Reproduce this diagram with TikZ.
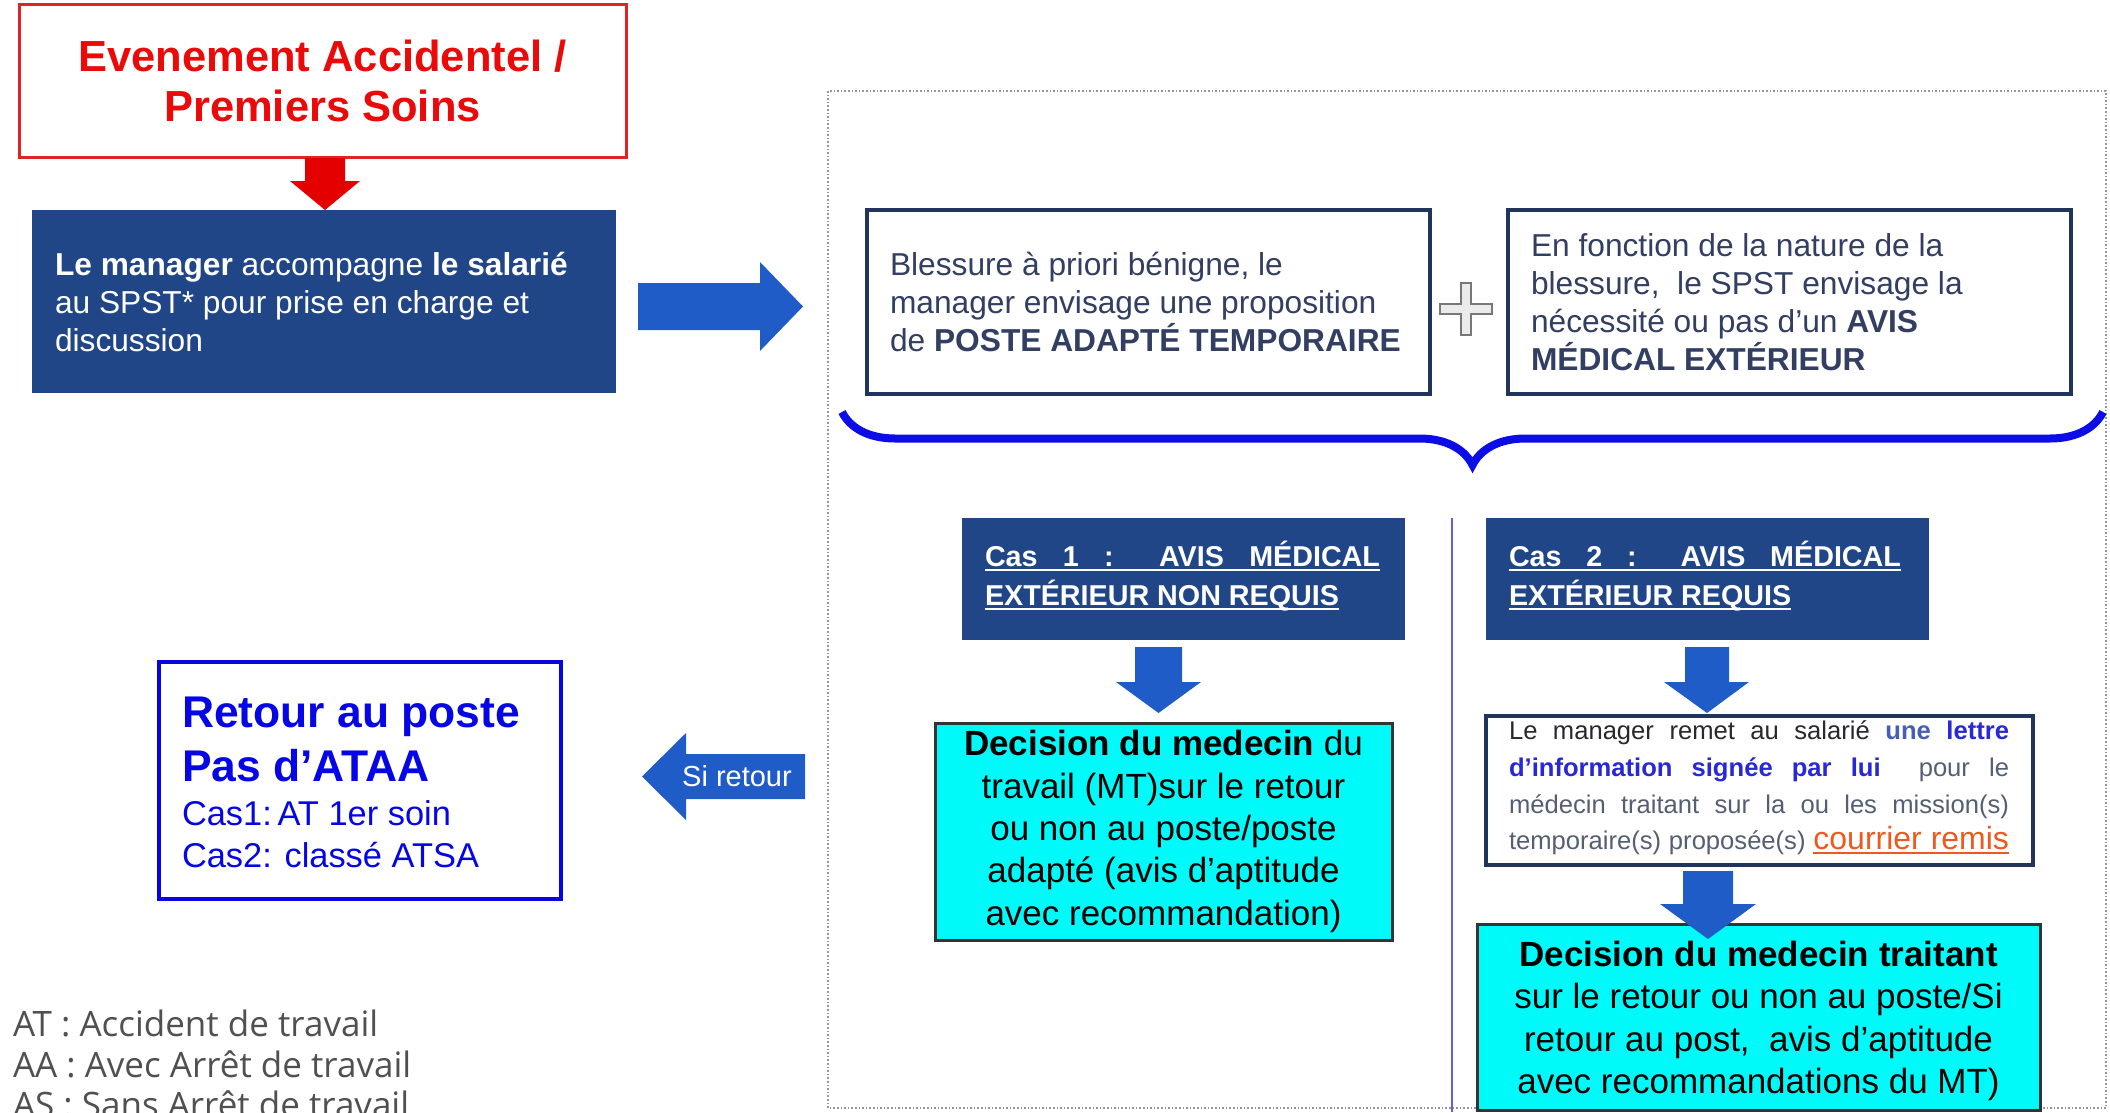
\documentclass[tikz,border=0pt]{standalone}
\usepackage{fontspec}
\setmainfont{Liberation Sans}
\newfontfamily\legendfont{Open Sans}
\usetikzlibrary{decorations.pathreplacing}
\definecolor{titlered}{RGB}{235,10,10}
\definecolor{boxred}{RGB}{225,35,35}
\definecolor{navyfill}{RGB}{32,70,136}
\definecolor{arrowblue}{RGB}{32,92,200}
\definecolor{navyline}{RGB}{32,52,92}
\definecolor{slate}{RGB}{50,62,98}
\definecolor{bracecol}{RGB}{12,12,230}
\definecolor{vlinecol}{RGB}{95,95,230}
\definecolor{cyanfill}{RGB}{0,250,250}
\definecolor{retourblue}{RGB}{5,5,230}
\definecolor{lettergray}{RGB}{85,95,115}
\definecolor{letterdark}{RGB}{40,40,45}
\definecolor{letterblue}{RGB}{40,40,215}
\definecolor{steelblue}{RGB}{70,95,180}
\definecolor{orangered}{RGB}{235,90,30}
\definecolor{legendgray}{RGB}{80,80,80}
\definecolor{framegray}{RGB}{150,150,150}
\definecolor{plusgray}{RGB}{120,120,120}
\newcommand\ulbox[3]{\sbox0{#3}\rlap{\rule[-#1]{\wd0}{#2}}\usebox0}
\begin{document}
\begin{tikzpicture}[x=1pt,y=-1pt,
  boxshape/.style={rectangle, inner sep=0pt, outer sep=0pt},
  txt/.style={inner sep=0pt, outer sep=0pt},
  fatblue/.style={fill=arrowblue},
  fatred/.style={fill=red!90!black},
  bodytext/.style={txt, align=left, font=\fontsize{31.7}{38}\selectfont},
  castext/.style={txt, align=left, text=white, font=\bfseries\fontsize{28.7}{39}\selectfont},
  cyantext/.style={align=center, font=\fontsize{35}{42.4}\selectfont},
  legendtext/.style={txt, anchor=base west, text=legendgray, font=\legendfont\fontsize{35}{38}\selectfont}
]
\clip (0,0) rectangle (2110,1112);
\fill[white] (0,0) rectangle (2110,1112);

% dotted frame
\draw[framegray, dotted, line width=1.6pt] (828,91) rectangle (2106,1108);

% title box
\node[boxshape, draw=boxred, line width=3pt, minimum width=607pt, minimum height=153pt,
      align=center, text=titlered, font=\bfseries\fontsize{43.5}{50}\selectfont]
      (title) at (322.5,80.5) {Evenement Accidentel /\\Premiers Soins};
% red arrow
\fill[fatred] (305,158) -- (345,158) -- (345,181) -- (360,181) -- (325,210) -- (290,181) -- (305,181) -- cycle;

% manager box
\node[boxshape, fill=navyfill, minimum width=584pt, minimum height=183pt] (manager) at (324,301.5) {};
\node[bodytext, anchor=west, text=white] (managert) at (55,302)
  {\textbf{Le manager} accompagne \textbf{le salarié}\\au SPST* pour prise en charge et\\discussion};

% big right arrow
\fill[fatblue] (638,283) -- (760,283) -- (760,262) -- (803,306.5) -- (760,351) -- (760,330) -- (638,330) -- cycle;

% box A / box B
\node[boxshape, draw=navyline, line width=3.5pt, fill=white, minimum width=563pt, minimum height=184pt] (boxA) at (1148.5,302) {};
\node[bodytext, anchor=west, text=slate] (boxAt) at (890,302)
  {Blessure à priori bénigne, le\\manager envisage une proposition\\de \textbf{POSTE ADAPTÉ TEMPORAIRE}};
\node[boxshape, draw=navyline, line width=3.5pt, fill=white, minimum width=563pt, minimum height=184pt] (boxB) at (1789.5,302) {};
\node[bodytext, anchor=west, text=slate] (boxBt) at (1531,302)
  {En fonction de la nature de la\\blessure,\ \ le SPST envisage la\\nécessité ou pas d’un \textbf{AVIS}\\\textbf{MÉDICAL EXTÉRIEUR}};

% plus sign
\filldraw[fill=black!8, draw=plusgray, line width=1.4pt]
  (1461,283) -- (1471,283) -- (1471,304) -- (1492,304) -- (1492,314) -- (1471,314) -- (1471,335)
  -- (1461,335) -- (1461,314) -- (1440,314) -- (1440,304) -- (1461,304) -- cycle;

% brace
\draw[bracecol, line width=8pt, decorate, decoration={brace, amplitude=53pt, aspect=0.5}]
  (2103,412) -- (842,412);

% case boxes
\node[boxshape, fill=navyfill, minimum width=443pt, minimum height=122pt] (cas1) at (1183.5,579) {};
\node[castext, anchor=west] (cas1t) at (985,576)
  {\ulbox{5pt}{2.2pt}{\makebox[395pt][s]{Cas 1 : AVIS MÉDICAL}}\\\ulbox{5pt}{2.2pt}{EXTÉRIEUR NON REQUIS}};
\node[boxshape, fill=navyfill, minimum width=443pt, minimum height=122pt] (cas2) at (1707.5,579) {};
\node[castext, anchor=west] (cas2t) at (1509,576)
  {\ulbox{5pt}{2.2pt}{\makebox[392pt][s]{Cas 2 : AVIS MÉDICAL}}\\\ulbox{5pt}{2.2pt}{EXTÉRIEUR REQUIS}};

% separator
\coordinate (septop) at (1452,518);
\coordinate (sepbot) at (1452,1112);
\draw[vlinecol, line width=2pt] (septop) -- (sepbot);

% down arrows
\fill[fatblue] (1135,647) -- (1182,647) -- (1182,682) -- (1201,682) -- (1158.5,713) -- (1116,682) -- (1135,682) -- cycle;
\fill[fatblue] (1685,647) -- (1729,647) -- (1729,682) -- (1749,682) -- (1707,713) -- (1664,682) -- (1685,682) -- cycle;

% cyan 1
\node[boxshape, draw=black!80, line width=3pt, fill=cyanfill, minimum width=457pt, minimum height=217pt,
      cyantext] (cyan1) at (1163.5,831.5)
  {\textbf{Decision du medecin} du\\travail (MT)sur le retour\\ou non au poste/poste\\adapté (avis d’aptitude\\avec recommandation)};

% letter box
\node[boxshape, draw=navyline, line width=4pt, fill=white, minimum width=547pt, minimum height=149pt] (letter) at (1759.5,790.5) {};
\node[txt, anchor=west, align=left, text=lettergray, font=\fontsize{25.6}{36.7}\selectfont] (lettert) at (1509,788)
  {\makebox[500pt][s]{\color{letterdark}Le manager remet au salarié \color{steelblue}\textbf{une} \color{letterblue}\textbf{lettre}}\\
   \makebox[500pt][s]{\color{letterblue}\textbf{d’information signée par lui}\ \ \color{lettergray}pour le}\\
   \makebox[500pt][s]{médecin traitant sur la ou les mission(s)}\\
   \makebox[500pt][s]{temporaire(s) proposée(s) {\fontsize{32}{36}\selectfont\color{orangered}\ulbox{4pt}{2pt}{courrier remis}}}};

% cyan 2
\node[boxshape, draw=black!80, line width=3pt, fill=cyanfill, minimum width=563pt, minimum height=186pt] (cyan2) at (1758.5,1017) {};
\node[txt, cyantext] (cyan2t) at (1758.5,1021)
  {\textbf{Decision du medecin traitant}\\sur le retour ou non au poste/Si\\retour au post,\ \ avis d’aptitude\\avec recommandations du MT)};
\fill[fatblue] (1683,871) -- (1733,871) -- (1733,904) -- (1756,904) -- (1708,939) -- (1660,904) -- (1683,904) -- cycle;

% retour box
\node[boxshape, draw=retourblue, line width=4pt, fill=white, minimum width=402pt, minimum height=237pt] (retour) at (360,780.5) {};
\node[txt, anchor=west, text=retourblue, font=\bfseries\fontsize{44.4}{52}\selectfont] (r1) at (182,717) {Retour au poste};
\node[txt, anchor=west, text=retourblue, font=\bfseries\fontsize{44.4}{52}\selectfont] (r2) at (182,766) {Pas d’ATAA};
\node[txt, anchor=west, text=retourblue, font=\fontsize{34.4}{42}\selectfont] (r3) at (182,813) {Cas1:\,AT 1er soin};
\node[txt, anchor=west, text=retourblue, font=\fontsize{34.4}{42}\selectfont] (r4) at (182,855) {Cas2: classé ATSA};

% si retour arrow
\fill[fatblue] (642,776.5) -- (686,733) -- (686,754) -- (805,754) -- (805,799) -- (686,799) -- (686,820) -- cycle;
\node[txt, text=white, font=\fontsize{29}{34}\selectfont] (siretour) at (737,776) {Si retour};

% legend
\node[legendtext] (leg1) at (13,1036) {AT : Accident de travail};
\node[legendtext] (leg2) at (13,1077) {AA : Avec Arrêt de travail};
\node[legendtext] (leg3) at (13,1117) {AS : Sans Arrêt de travail};
\end{tikzpicture}
\end{document}
